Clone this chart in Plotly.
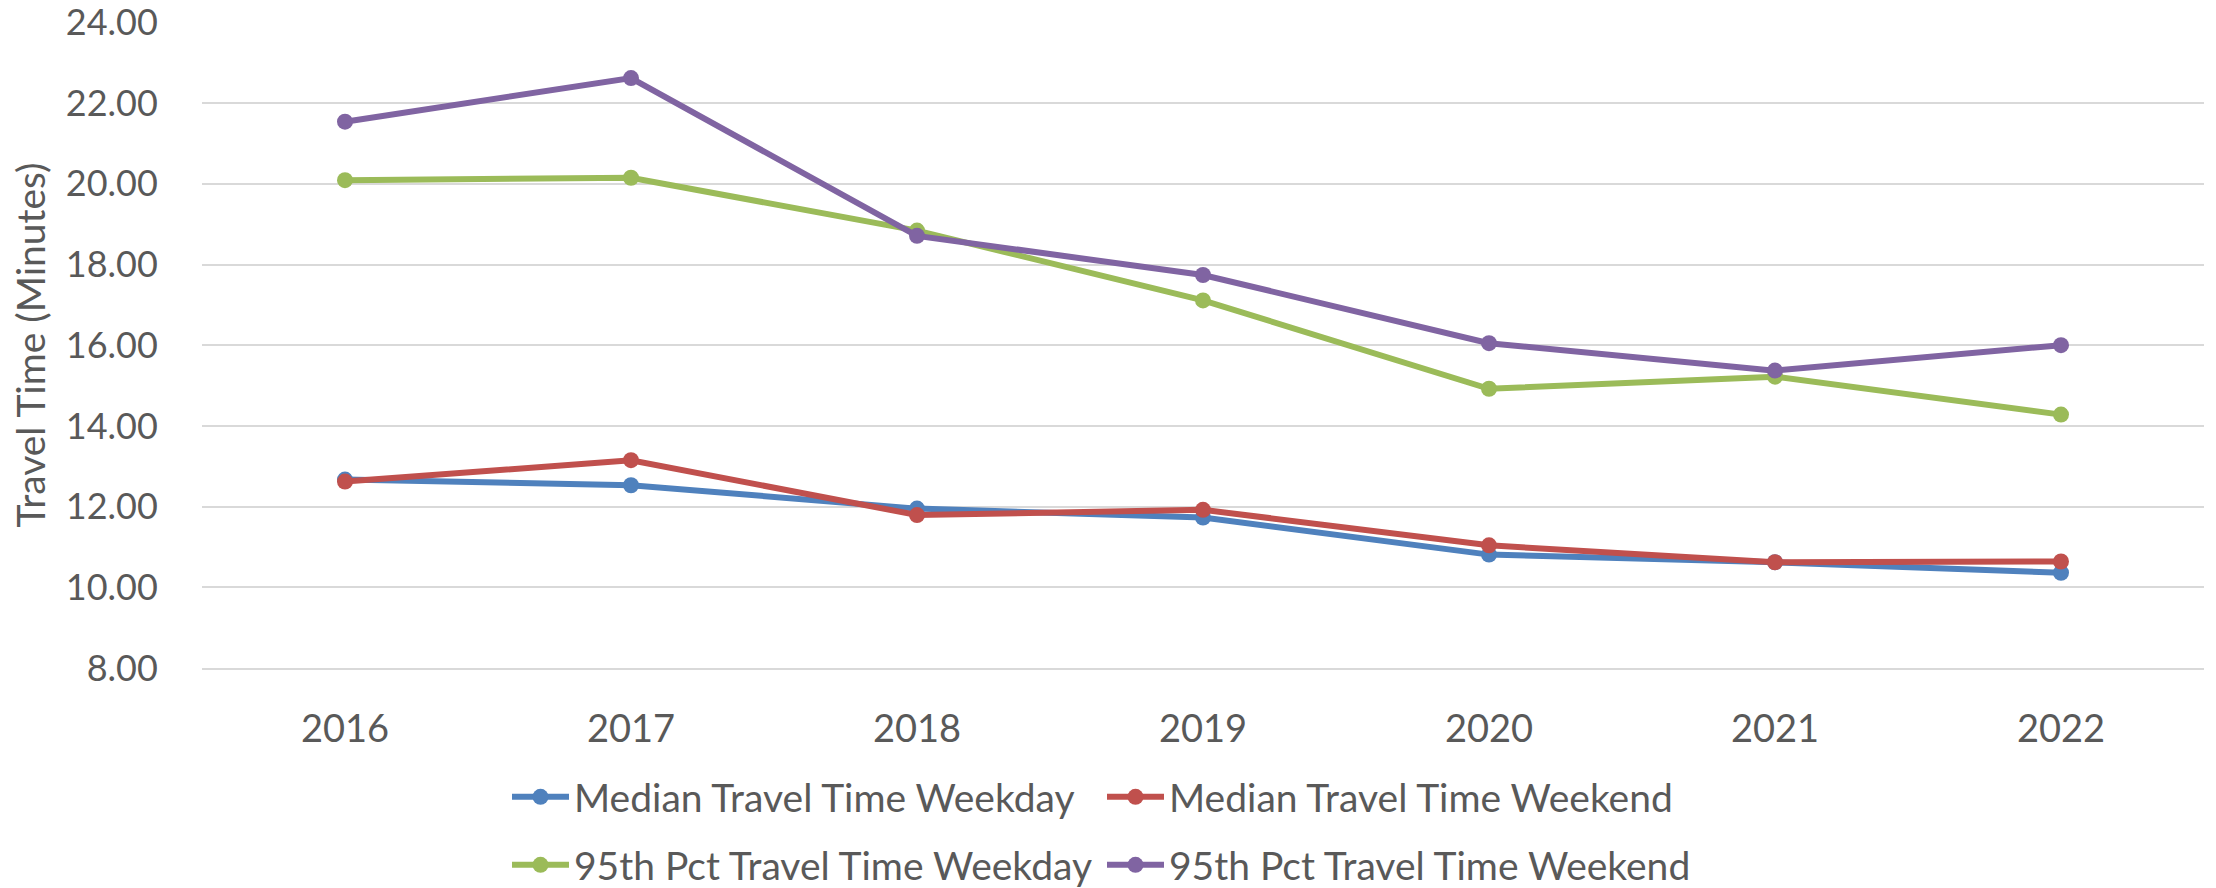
import plotly.graph_objects as go

years = ["2016", "2017", "2018", "2019", "2020", "2021", "2022"]
median_weekday = [12.67, 12.53, 11.95, 11.73, 10.81, 10.62, 10.36]
median_weekend = [12.62, 13.15, 11.79, 11.92, 11.04, 10.62, 10.64]
p95_weekday = [20.09, 20.15, 18.84, 17.11, 14.92, 15.22, 14.28]
p95_weekend = [21.54, 22.62, 18.71, 17.74, 16.05, 15.37, 16.00]
y_ticks = [8, 10, 12, 14, 16, 18, 20, 22, 24]

series = [
    ("Median Travel Time Weekday", median_weekday, "#4F81BD", "legend"),
    ("Median Travel Time Weekend", median_weekend, "#C0504D", "legend"),
    ("95th Pct Travel Time Weekday", p95_weekday, "#9BBB59", "legend2"),
    ("95th Pct Travel Time Weekend", p95_weekend, "#8064A2", "legend2"),
]

FONT = "Lato"
TXT = "#595959"
W, H = 2216, 888

fig = go.Figure()
for name, vals, color, lg in series:
    fig.add_trace(go.Scatter(
        x=years, y=vals, name=name, mode="lines+markers",
        line=dict(color=color, width=6),
        marker=dict(color=color, size=16, symbol="circle"),
        legend=lg,
    ))

legend_common = dict(
    orientation="h", xref="container", yref="container",
    xanchor="left", yanchor="middle",
    font=dict(family=FONT, size=39, color=TXT),
    itemwidth=57, entrywidth=523, bgcolor="rgba(0,0,0,0)",
)

fig.update_layout(
    width=W, height=H,
    margin=dict(l=202, r=12, t=22, b=220, autoexpand=False),
    paper_bgcolor="white", plot_bgcolor="white",
    font=dict(family=FONT, size=37, color=TXT),
    showlegend=True,
    legend=dict(legend_common, x=507 / W, y=1 - 797 / H),
    legend2=dict(legend_common, x=507 / W, y=1 - 865 / H),
)

fig.update_xaxes(
    type="category", range=[-0.5, 6.5],
    showgrid=False, showline=True, linecolor="#D9D9D9", linewidth=2,
    ticks="outside", ticklen=26, tickcolor="rgba(0,0,0,0)",
    tickfont=dict(family=FONT, size=38, color=TXT),
    zeroline=False, automargin=False,
)
fig.update_yaxes(
    range=[8, 24.01], tickvals=y_ticks, ticktext=[f"{v:.2f}" for v in y_ticks],
    showgrid=True, gridcolor="#D9D9D9", gridwidth=2,
    showline=False, zeroline=False, automargin=False,
    ticks="outside", ticklen=36, tickcolor="rgba(0,0,0,0)",
    ticklabeloverflow="allow",
    tickfont=dict(family=FONT, size=36, color=TXT),
    title=dict(text="Travel Time (Minutes)", standoff=8,
               font=dict(family=FONT, size=39, color=TXT)),
)

fig.write_html("out.html",
               config={"displayModeBar": False},
               post_script="document.body.style.margin='0';document.body.style.overflow='hidden';")
